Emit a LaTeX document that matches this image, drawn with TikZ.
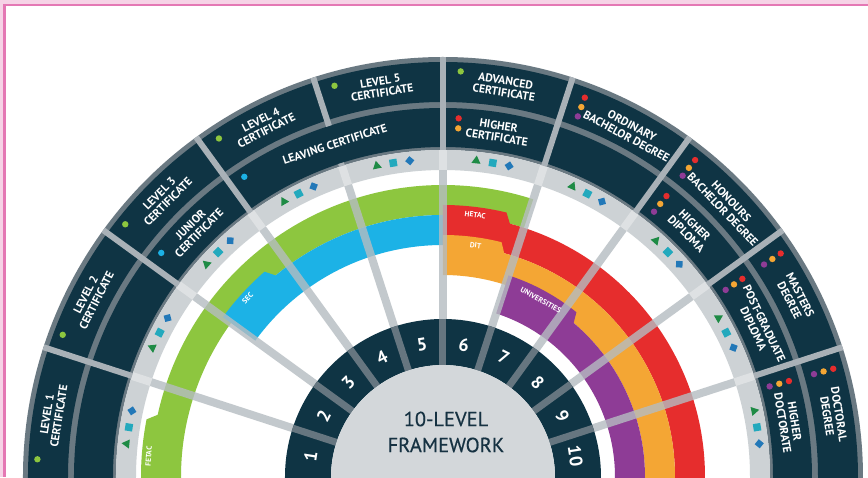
\documentclass[tikz,border=0pt]{standalone}
\usepackage{fontspec}
\setmainfont{PT Sans}
\newfontfamily\titlefont{PT Sans}[FakeBold=0.5]
\usetikzlibrary{shapes.geometric}
\definecolor{navy}{RGB}{15,52,68}
\definecolor{rim}{RGB}{106,121,130}
\definecolor{lgray}{RGB}{205,210,213}
\definecolor{disk}{RGB}{211,215,218}
\definecolor{spoke}{RGB}{181,188,193}
\definecolor{spokel}{RGB}{222,225,227}
\definecolor{divc}{RGB}{169,177,183}
\definecolor{nspoke}{RGB}{102,118,128}
\definecolor{cgreen}{RGB}{141,198,63}
\definecolor{cblue}{RGB}{28,178,230}
\definecolor{cred}{RGB}{230,45,45}
\definecolor{corange}{RGB}{244,166,52}
\definecolor{cpurple}{RGB}{142,60,150}
\definecolor{sgreen}{RGB}{30,139,69}
\definecolor{steal}{RGB}{35,169,189}
\definecolor{sblue}{RGB}{34,120,184}
\definecolor{pinkl}{RGB}{246,211,230}
\definecolor{pinkd}{RGB}{228,120,180}
\definecolor{ctext}{RGB}{22,50,66}
\newcommand{\annfill}[5]{%
  \fill[#1] (#4:#2pt) -- (#4:#3pt) arc[start angle=#4,end angle=#5,radius=#3pt] -- (#5:#2pt) arc[start angle=#5,end angle=#4,radius=#2pt] -- cycle;}
\newcommand{\bandtab}[6]{%
  \pgfmathsetmacro{\bTr}{#3+10}%
  \pgfmathsetmacro{\bTa}{#4-#6}%
  \pgfmathsetmacro{\bTb}{#4-#6-1.3}%
  \fill[#1] (#4:#2pt) -- (#4:\bTr pt) arc[start angle=#4,end angle=\bTa,radius=\bTr pt] -- (\bTb:#3pt) arc[start angle=\bTb,end angle=#5,radius=#3pt] -- (#5:#2pt) arc[start angle=#5,end angle=#4,radius=#2pt] -- cycle;}
\begin{document}
\begin{tikzpicture}[x=1pt,y=1pt,
  boxtext/.style={text=white,font=\bfseries\fontsize{11.6}{12}\selectfont,align=center,inner sep=0pt},
  tablabel/.style={text=white,font=\bfseries\fontsize{7.5}{8}\selectfont,inner sep=0pt},
  numtext/.style={text=white,font=\bfseries\fontsize{18}{18}\selectfont,inner sep=0pt},
  tri/.style={regular polygon,regular polygon sides=3,minimum size=10.5pt,inner sep=0pt,fill=sgreen},
  sq/.style={rectangle,minimum size=7.5pt,inner sep=0pt,fill=steal},
  dia/.style={rectangle,minimum size=6.5pt,inner sep=0pt,fill=sblue},
  spk/.style={line width=8pt,draw=spoke,draw opacity=0.8},
  divd/.style={line width=6pt,draw=divc},
  nspk/.style={line width=7pt,draw=nspoke},
]
\useasboundingbox (-443,0) rectangle (425,477);
\clip (-443,0) rectangle (425,477);
\fill[white] (-443,0) rectangle (425,477);
% outer rings
\annfill{rim}{327}{420}{183}{-3}
\annfill{lgray}{307}{327}{183}{-3}
\annfill{navy}{375}{415}{183}{-3}
\annfill{navy}{330}{369}{183}{-3}
% awarding body bands
\bandtab{cgreen}{262}{292}{183}{72}{14}
\bandtab{cblue}{232}{262}{144}{90}{13}
\bandtab{cred}{232}{262}{90}{-3}{13.5}
\bandtab{corange}{202}{232}{90}{-3}{14}
\bandtab{cpurple}{172}{202}{72}{-3}{21}
% spokes
\foreach \a in {162,144,126,108,90,72,54,36,18}{
  \draw[spk] (\a:158pt) -- (\a:307pt);
  \draw[line width=8pt,draw=spokel] (\a:307pt) -- (\a:327pt);
}
\foreach \a in {162,144,126,90,72,54,36,18}{\draw[divd] (\a:327pt) -- (\a:420pt);}
\draw[divd] (108:327pt) -- (108:330pt);
\draw[divd] (108:369pt) -- (108:420pt);
% number ring
\annfill{navy}{112}{158}{183}{-3}
\foreach \a in {162,144,126,108,90,72,54,36,18}{\draw[nspk] (\a:112pt) -- (\a:158pt);}
\fill[disk] (0,0) circle (112pt);
\node[align=center,text=ctext,font=\titlefont\fontsize{20.5}{26}\selectfont,inner sep=0pt] (title) at (3,45) {10-LEVEL\\FRAMEWORK};
\foreach \k in {1,...,10}{
  \pgfmathsetmacro{\mA}{171-18*(\k-1)}
  \node[numtext,rotate=\mA-90] (n\k) at (\mA:134pt) {\k};
}
% symbols
\foreach \k in {1,...,10}{
  \pgfmathsetmacro{\sA}{180-18*(\k-1)}
  \node[tri,rotate=\sA-96] (t\k) at (\sA-6:318pt) {};
  \node[sq,rotate=\sA-99] (q\k) at (\sA-9:318pt) {};
  \node[dia,rotate=\sA-57] (d\k) at (\sA-12:318pt) {};
}
% ring A texts
\node[boxtext,rotate=81] (a1) at (171:395pt) {LEVEL 1\\CERTIFICATE};
\node[boxtext,rotate=63] (a2) at (153:395pt) {LEVEL 2\\CERTIFICATE};
\node[boxtext,rotate=45] (a3) at (135:395pt) {LEVEL 3\\CERTIFICATE};
\node[boxtext,rotate=27] (a4) at (117:395pt) {LEVEL 4\\CERTIFICATE};
\node[boxtext,rotate=9] (a5) at (99:395pt) {LEVEL 5\\CERTIFICATE};
\node[boxtext,rotate=-9] (a6) at (81:395pt) {ADVANCED\\CERTIFICATE};
\node[boxtext,rotate=-28.3] (a7) at (61.7:393pt) {ORDINARY\\BACHELOR DEGREE};
\node[boxtext,rotate=-46.3] (a8) at (43.7:393pt) {HONOURS\\BACHELOR DEGREE};
\node[boxtext,rotate=-63] (a9) at (27:395pt) {MASTERS\\DEGREE};
\node[boxtext,rotate=-81] (a10) at (9:395pt) {DOCTORAL\\DEGREE};
% ring B texts
\node[boxtext,rotate=45] (b3) at (135:351pt) {JUNIOR\\CERTIFICATE};
\node[boxtext,rotate=18] (b4) at (108:350pt) {LEAVING CERTIFICATE};
\node[boxtext,rotate=-9] (b6) at (81:350pt) {HIGHER\\CERTIFICATE};
\node[boxtext,rotate=-45] (b8) at (45:350pt) {HIGHER\\DIPLOMA};
\node[boxtext,rotate=-64.5] (b9) at (25.5:350pt) {POST-GRADUATE\\DIPLOMA};
\node[boxtext,rotate=-81] (b10) at (9:350pt) {HIGHER\\DOCTORATE};
% tab labels
\node[tablabel,rotate=86] (lf) at (176:295pt) {FETAC};
\node[tablabel,rotate=47.5] (ls) at (137.5:265pt) {SEC};
\node[tablabel,rotate=-7] (lh) at (83:264pt) {HETAC};
\node[tablabel,rotate=-8] (ld) at (82:234pt) {DIT};
\node[tablabel,rotate=-29] (lu) at (61:202pt) {UNIVERSITIES};
% dots ring A
\foreach \s in {180,162,144,126,108,90}{\fill[cgreen] (\s-2.5:406pt) circle (3.2pt);}
\foreach \s in {72,54,36,18}{
  \fill[cred] (\s-2.5:405pt) circle (3.2pt);
  \fill[corange] (\s-2.5:395pt) circle (3.2pt);
  \fill[cpurple] (\s-2.5:385pt) circle (3.2pt);
}
% dots ring B
\fill[cblue] (141.5:360pt) circle (3.2pt);
\fill[cblue] (123.5:360pt) circle (3.2pt);
\fill[cred] (87.5:359pt) circle (3.2pt);
\fill[corange] (87.5:349pt) circle (3.2pt);
\foreach \s in {54,36,18}{
  \fill[cred] (\s-2.5:359pt) circle (3.2pt);
  \fill[corange] (\s-2.5:349pt) circle (3.2pt);
  \fill[cpurple] (\s-2.5:339pt) circle (3.2pt);
}
% frame
\fill[pinkl] (-443,473) rectangle (425,477);
\fill[pinkd] (-443,471) rectangle (425,473);
\fill[pinkl] (-443,0) rectangle (-439.7,473);
\fill[pinkd] (-439.7,0) rectangle (-437.3,471);
\end{tikzpicture}
\end{document}
